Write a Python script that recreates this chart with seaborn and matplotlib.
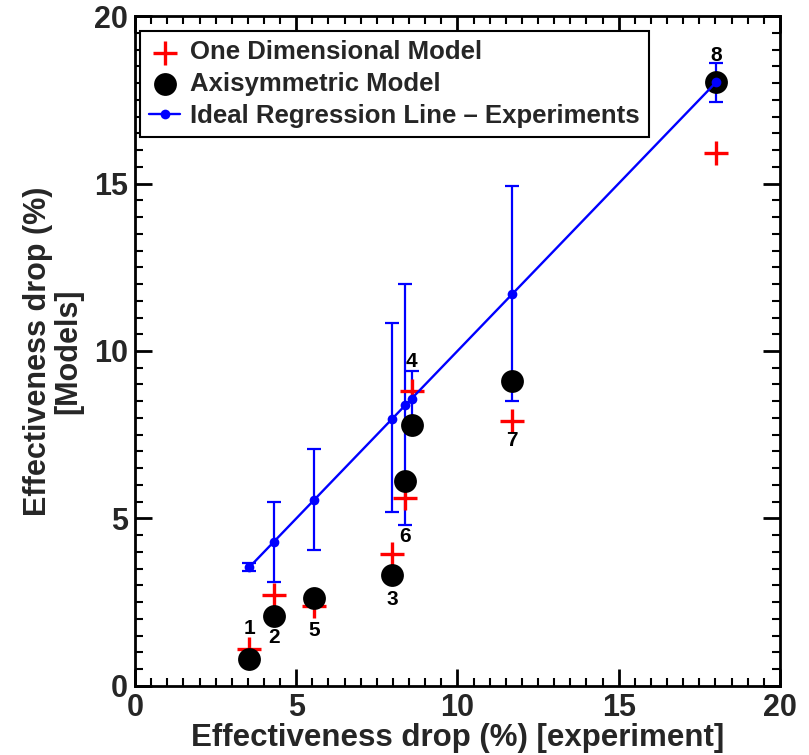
import matplotlib
matplotlib.use("Agg")
import matplotlib.pyplot as plt
from matplotlib import font_manager
from matplotlib.ticker import MultipleLocator
import seaborn as sns
import pandas as pd

# ---- data ----
point_ids = ["1", "2", "5", "3", "6", "4", "7", "8"]
experiment = [3.55, 4.30, 5.55, 7.97, 8.38, 8.58, 11.70, 18.03]
one_dim = [1.09, 2.72, 2.40, 3.94, 5.60, 8.80, 7.91, 15.90]
axisym = [0.80, 2.10, 2.64, 3.31, 6.12, 7.79, 9.10, 18.02]
err_low = [3.44, 3.11, 4.06, 5.20, 4.80, 7.82, 8.52, 17.42]
err_high = [3.66, 5.50, 7.07, 10.83, 12.00, 9.41, 14.93, 18.60]
# label anchor series and vertical offset (pixels)
label_ref = ["one", "axi", "one", "axi", "one", "one", "one", "axi"]
label_dy = [21, -22, -25, -24, -38, 30, -19, 27]

df = pd.DataFrame({"exp": experiment, "one": one_dim, "axi": axisym,
                   "lo": err_low, "hi": err_high})

sns.set_theme(style="ticks")
names = {f.name for f in font_manager.fontManager.ttflist}
narrow = "Liberation Sans Narrow" if "Liberation Sans Narrow" in names else "Liberation Sans"
plt.rcParams["font.family"] = ["Liberation Sans", "DejaVu Sans"]
plt.rcParams["font.weight"] = "bold"

fig = plt.figure(figsize=(8.09, 7.55), dpi=100)
ax = fig.add_axes([0.1669, 0.0914, 0.964 - 0.1669, 0.9788 - 0.0914])

# regression line with experiment error bars
ax.errorbar(df["exp"], df["exp"],
            yerr=[df["exp"] - df["lo"], df["hi"] - df["exp"]],
            fmt="none", ecolor="blue", elinewidth=1.6, capsize=5, capthick=1.6,
            zorder=2)
sns.lineplot(data=df, x="exp", y="exp", ax=ax, color="blue", marker="o",
             markersize=7, markeredgewidth=0, linewidth=1.7,
             label="Ideal Regression Line \u2013 Experiments", zorder=4)
sns.scatterplot(data=df, x="exp", y="one", ax=ax, marker="+", s=320,
                color="red", linewidth=2.4, label="One Dimensional Model", zorder=3)
sns.scatterplot(data=df, x="exp", y="axi", ax=ax, marker="o", s=270,
                color="black", edgecolor="black", linewidth=0,
                label="Axisymmetric Model", zorder=3)

for pid, x, ref, dy, o, a in zip(point_ids, experiment, label_ref, label_dy, one_dim, axisym):
    yref = o if ref == "one" else a
    ax.annotate(pid, xy=(x, yref), xytext=(0, dy * 0.72), textcoords="offset points",
                ha="center", va="center", fontsize=15, fontweight="bold",
                color="black", zorder=5)

ax.set_xlim(0, 20)
ax.set_ylim(0, 20)
ax.xaxis.set_major_locator(MultipleLocator(5))
ax.yaxis.set_major_locator(MultipleLocator(5))
ax.xaxis.set_minor_locator(MultipleLocator(0.5))
ax.yaxis.set_minor_locator(MultipleLocator(0.5))
ax.tick_params(which="both", direction="in", top=True, right=True, color="black")
ax.tick_params(which="major", length=12, width=2)
ax.tick_params(which="minor", length=6, width=1.5)
for sp in ax.spines.values():
    sp.set_linewidth(2)
    sp.set_color("black")
    sp.set_visible(True)

for lab in ax.get_xticklabels() + ax.get_yticklabels():
    lab.set_family(narrow)
    lab.set_fontsize(22)
    lab.set_fontweight("bold")
ax.tick_params(axis="x", pad=5)
ax.tick_params(axis="y", pad=5)

ax.set_xlabel("Effectiveness drop (%) [experiment]", fontsize=22.5, fontweight="bold",
              family=narrow, labelpad=0)
ax.set_ylabel("Effectiveness drop (%)\n[Models]", fontsize=22, fontweight="bold",
              family=narrow, labelpad=8, linespacing=1.0)

h, l = ax.get_legend_handles_labels()
order = [l.index("One Dimensional Model"), l.index("Axisymmetric Model"),
         l.index("Ideal Regression Line \u2013 Experiments")]
leg = ax.legend([h[i] for i in order], [l[i] for i in order], loc="upper left",
                bbox_to_anchor=(0.008, 0.977),
                prop={"weight": "bold", "size": 18.5}, frameon=True, fancybox=False,
                edgecolor="black", framealpha=1, borderaxespad=0,
                handlelength=1.2, handletextpad=0.4, labelspacing=0.3,
                borderpad=0.35)
leg.get_frame().set_linewidth(1.5)

fig.savefig("out.png", dpi=100)
